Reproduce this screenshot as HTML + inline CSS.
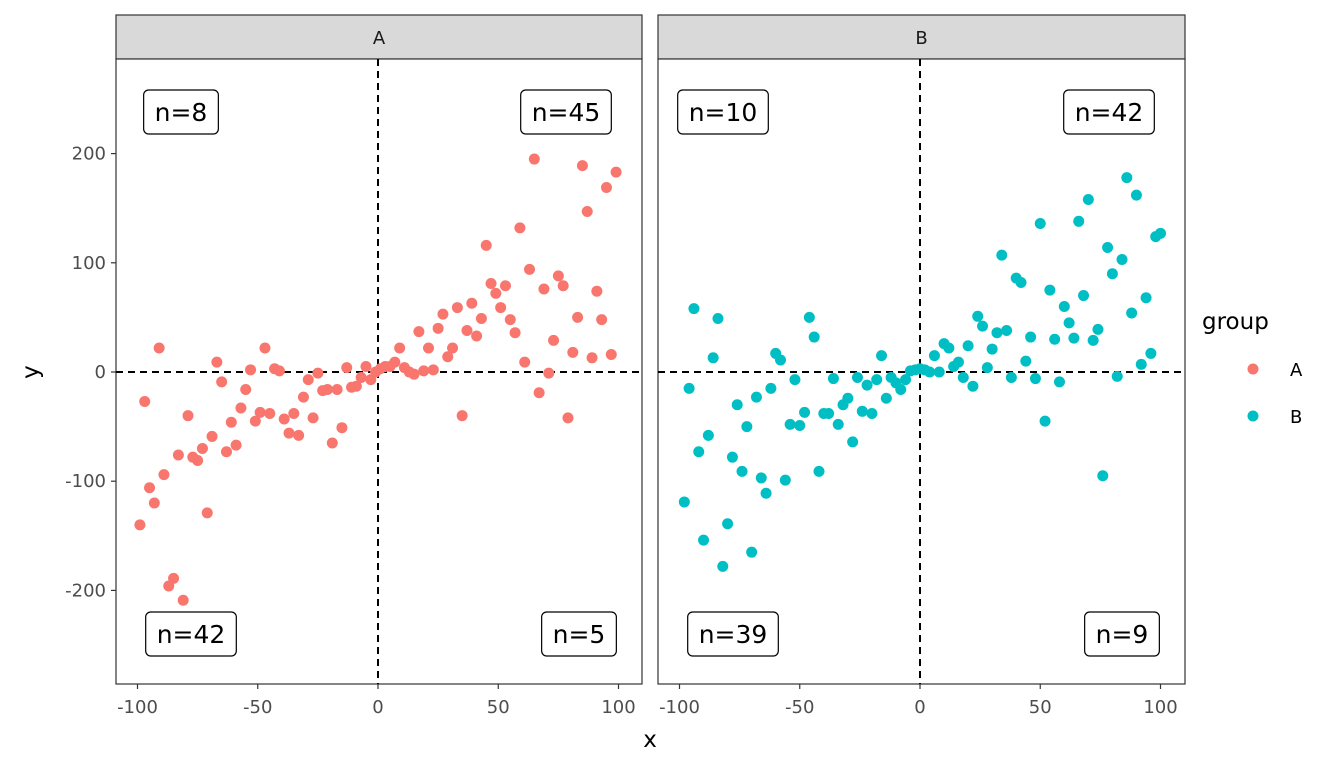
<!DOCTYPE html>
<html><head><meta charset="utf-8"><style>
body{margin:0;background:#fff;}
svg{display:block;font-family:"DejaVu Sans","Liberation Sans",sans-serif;}
</style></head><body>
<svg id="c" width="1344" height="768" xmlns="http://www.w3.org/2000/svg"></svg>
<script>
const xA=[-99,-97,-95,-93,-91,-89,-87,-85,-83,-81,-79,-77,-75,-73,-71,-69,-67,-65,-63,-61,-59,-57,-55,-53,-51,-49,-47,-45,-43,-41,-39,-37,-35,-33,-31,-29,-27,-25,-23,-21,-19,-17,-15,-13,-11,-9,-7,-5,-3,-1,1,3,5,7,9,11,13,15,17,19,21,23,25,27,29,31,33,35,37,39,41,43,45,47,49,51,53,55,57,59,61,63,65,67,69,71,73,75,77,79,81,83,85,87,89,91,93,95,97,99];
const yA=[-140,-27,-106,-120,22,-94,-196,-189,-76,-209,-40,-78,-81,-70,-129,-59,9,-9,-73,-46,-67,-33,-16,2,-45,-37,22,-38,3,1,-43,-56,-38,-58,-23,-7,-42,-1,-17,-16,-65,-16,-51,4,-14,-13,-5,5,-7,0,3,5,5,9,22,4,0,-2,37,1,22,2,40,53,14,22,59,-40,38,63,33,49,116,81,72,59,79,48,36,132,9,94,195,-19,76,-1,29,88,79,-42,18,50,189,147,13,74,48,169,16,183];
const xB=[-98,-96,-94,-92,-90,-88,-86,-84,-82,-80,-78,-76,-74,-72,-70,-68,-66,-64,-62,-60,-58,-56,-54,-52,-50,-48,-46,-44,-42,-40,-38,-36,-34,-32,-30,-28,-26,-24,-22,-20,-18,-16,-14,-12,-10,-8,-6,-4,-2,0,2,4,6,8,10,12,14,16,18,20,22,24,26,28,30,32,34,36,38,40,42,44,46,48,50,52,54,56,58,60,62,64,66,68,70,72,74,76,78,80,82,84,86,88,90,92,94,96,98,100];
const yB=[-119,-15,58,-73,-154,-58,13,49,-178,-139,-78,-30,-91,-50,-165,-23,-97,-111,-15,17,11,-99,-48,-7,-49,-37,50,32,-91,-38,-38,-6,-48,-30,-24,-64,-5,-36,-12,-38,-7,15,-24,-5,-10,-16,-7,1,2,3,2,0,15,0,26,22,5,9,-5,24,-13,51,42,4,21,36,107,38,-5,86,82,10,32,-6,136,-45,75,30,-9,60,45,31,138,70,158,29,39,-95,114,90,-4,103,178,54,162,7,68,17,124,127];
const countsA=["n=8","n=45","n=42","n=5"];
const countsB=["n=10","n=42","n=39","n=9"];
const xTicks=[-100,-50,0,50,100];
const yTicks=[-200,-100,0,100,200];
const NS="http://www.w3.org/2000/svg";
const svg=document.getElementById('c');
function mk(t,a,p){const e=document.createElementNS(NS,t);for(const k in a)e.setAttribute(k,a[k]);(p||svg).appendChild(e);return e;}
const plotTop=59,plotBot=684;
const yS=v=>372-v*1.092;
function drawPanel(name,x0,x1,zero,xs,ys,col,counts){
  const xS=v=>zero+v*2.405;
  const g=mk('g',{});
  
  
  const strip=mk('rect',{x:x0,y:15,width:x1-x0,height:44,fill:'#d9d9d9',stroke:'#333','stroke-width':1.2},g);
  
  
  const st=mk('text',{x:(x0+x1)/2,y:44,'text-anchor':'middle','font-size':18,fill:'#1a1a1a'},g);st.textContent=name;
  
  
  mk('rect',{x:x0,y:plotTop,width:x1-x0,height:plotBot-plotTop,fill:'#fff',stroke:'#333','stroke-width':1.2},g);
  mk('line',{x1:xS(0),x2:xS(0),y1:plotTop,y2:plotBot,stroke:'#000','stroke-width':2,'stroke-dasharray':'7,5'},g);
  mk('line',{x1:x0,x2:x1,y1:yS(0),y2:yS(0),stroke:'#000','stroke-width':2,'stroke-dasharray':'7,5'},g);
  xs.forEach((v,i)=>{const c=mk('circle',{cx:xS(v),cy:yS(ys[i]),r:5.5,fill:col},g);
    
    });
  const pos=[[x0+65,112],[x1-76,112],[x0+75,634],[x1-63,634]];
  counts.forEach((t,i)=>{
    const r=mk('rect',{y:pos[i][1]-22,height:44,rx:5,fill:'#fff',stroke:'#000','stroke-width':1.2},g);
    
    
    const tx=mk('text',{x:pos[i][0],y:pos[i][1]+9,'text-anchor':'middle','font-size':25,fill:'#000'},g);tx.textContent=t;
    
    
    const w=tx.getBBox().width+22;
    r.setAttribute('x',pos[i][0]-w/2);r.setAttribute('width',w);
  });
  xTicks.forEach(v=>{mk('line',{x1:xS(v),x2:xS(v),y1:plotBot,y2:plotBot+5,stroke:'#333','stroke-width':1.2},g);
    const t=mk('text',{x:xS(v),y:plotBot+29,'text-anchor':'middle','font-size':18,fill:'#4d4d4d'},g);t.textContent=v;
    
    });
}
drawPanel('A',116,642,378,xA,yA,'#F8766D',countsA);
drawPanel('B',658,1185,920,xB,yB,'#00BFC4',countsB);
yTicks.forEach(v=>{mk('line',{x1:111,x2:116,y1:yS(v),y2:yS(v),stroke:'#333','stroke-width':1.2});
  const t=mk('text',{x:106,y:yS(v)+6,'text-anchor':'end','font-size':18,fill:'#4d4d4d'});t.textContent=v;
  
  });
const xt=mk('text',{x:650,y:747,'text-anchor':'middle','font-size':23,fill:'#000'});xt.textContent='x';


const yt=mk('text',{x:38,y:372,'text-anchor':'middle','font-size':23,fill:'#000',transform:'rotate(-90 38 372)'});yt.textContent='y';


const lg=mk('text',{x:1202,y:329,'font-size':23,fill:'#000'});lg.textContent='group';


[['A','#F8766D',369],['B','#00BFC4',416]].forEach(d=>{
  const c=mk('circle',{cx:1253,cy:d[2],r:5.5,fill:d[1]});
  
  
  const t=mk('text',{x:1290,y:d[2]+7,'font-size':18,fill:'#000'});t.textContent=d[0];
  
  
});
</script>
</body></html>
